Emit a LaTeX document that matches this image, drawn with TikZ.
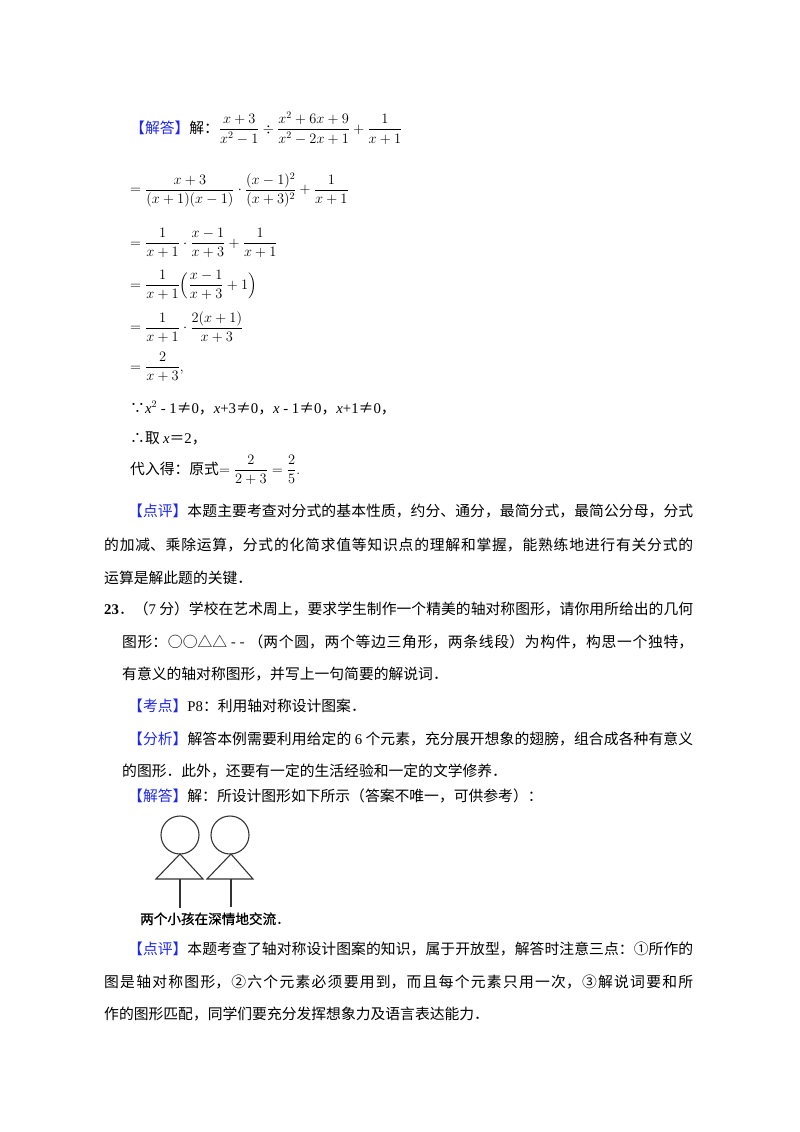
\documentclass[tikz,border=0pt]{standalone}
\usepackage{fontspec}
\usepackage{amsmath}
\newfontfamily\cjk{Noto Sans CJK SC}
\newfontfamily\cjkb[FakeBold=1.0]{Noto Sans CJK SC}
\newfontfamily\ser{Liberation Serif}
\definecolor{tagblue}{RGB}{30,40,230}
\newcommand{\tg}[1]{\textcolor{tagblue}{#1}}
\XeTeXlinebreaklocale "zh"
\XeTeXlinebreakskip=0pt plus 3pt
\newcommand{\jline}[2]{\parbox[t]{#1pt}{\tolerance=10000\hbadness=10000\parfillskip=0pt\relax #2}}
\begin{document}
\begin{tikzpicture}[x=1pt,y=-1pt,
  txt/.style={anchor=base west,inner sep=0pt,font=\cjk\fontsize{14.8}{16}\selectfont},
  mth/.style={anchor=west,inner sep=0pt,font=\fontsize{14}{16}\selectfont},
  fig/.style={line width=1.1pt,draw=black!80}]
\useasboundingbox (0,0) rectangle (800,1132);
% math part
\node[mth] (m1) at (130,128) {{\cjk\fontsize{14.8}{16}\selectfont\tg{【解答】}解：}$\displaystyle\frac{x+3}{x^2-1}\div\frac{x^2+6x+9}{x^2-2x+1}+\frac{1}{x+1}$};
\node[mth] (m2) at (130,190) {$\displaystyle=\frac{x+3}{(x+1)(x-1)}\cdot\frac{(x-1)^2}{(x+3)^2}+\frac{1}{x+1}$};
\node[mth] (m3) at (130,243) {$\displaystyle=\frac{1}{x+1}\cdot\frac{x-1}{x+3}+\frac{1}{x+1}$};
\node[mth] (m4) at (130,285) {$\displaystyle=\frac{1}{x+1}\Bigl(\frac{x-1}{x+3}+1\Bigr)$};
\node[mth] (m5) at (130,327) {$\displaystyle=\frac{1}{x+1}\cdot\frac{2(x+1)}{x+3}$};
\node[mth] (m6) at (130,367) {$\displaystyle=\frac{2}{x+3}$,};
\node[txt] (m7) at (130,413) {∵{\ser\itshape x}{\ser$^2$ - 1}≠{\ser 0}，{\ser\itshape x}{\ser +3}≠{\ser 0}，{\ser\itshape x}{\ser\ - 1}≠{\ser 0}，{\ser\itshape x}{\ser +1}≠{\ser 0}，};
\node[txt] (m8) at (130,443) {∴取 {\ser\itshape x}＝{\ser 2}，};
\node[mth] (m9) at (130,470) {{\cjk\fontsize{14.8}{16}\selectfont 代入得：原式}$\displaystyle=\frac{2}{2+3}=\frac{2}{5}$.};
% comments
\node[txt] (p1) at (128,516) {\jline{565}{\tg{【点评】}本题主要考查对分式的基本性质，约分、通分，最简分式，最简公分母，分式}};
\node[txt] (p2) at (104,550) {\jline{589}{的加减、乘除运算，分式的化简求值等知识点的理解和掌握，能熟练地进行有关分式的}};
\node[txt] (p3) at (104,583) {运算是解此题的关键．};
\node[txt] (q1) at (104,614) {\jline{589}{{\ser\bfseries 23}．（{\ser 7} 分）学校在艺术周上，要求学生制作一个精美的轴对称图形，请你用所给出的几何}};
\node[txt] (q2) at (122,647) {\jline{571}{图形：○○△△ - - （两个圆，两个等边三角形，两条线段）为构件，构思一个独特，}};
\node[txt] (q3) at (122,679) {有意义的轴对称图形，并写上一句简要的解说词．};
\node[txt] (k1) at (128,711) {\tg{【考点】}{\ser P8}：利用轴对称设计图案．};
\node[txt] (f1) at (128,744) {\jline{565}{\tg{【分析】}解答本例需要利用给定的 {\ser 6} 个元素，充分展开想象的翅膀，组合成各种有意义}};
\node[txt] (f2) at (122,776) {的图形．此外，还要有一定的生活经验和一定的文学修养．};
\node[txt] (j1) at (128,801) {\tg{【解答】}解：所设计图形如下所示（答案不唯一，可供参考）：};
% figure
\node[fig,circle,minimum size=38pt,inner sep=0pt] (c1) at (180,835) {};
\node[fig,circle,minimum size=38pt,inner sep=0pt] (c2) at (230,835) {};
\coordinate (a1) at (180,854); \coordinate (b1l) at (156,879); \coordinate (b1r) at (203,879);
\coordinate (a2) at (231,854); \coordinate (b2l) at (207,879); \coordinate (b2r) at (253,879);
\draw[fig,line join=miter] (a1) -- (b1l) -- (b1r) -- cycle;
\draw[fig,line join=miter] (a2) -- (b2l) -- (b2r) -- cycle;
\coordinate (t1) at (180,879); \coordinate (e1) at (180,908);
\coordinate (t2) at (231,879); \coordinate (e2) at (231,907);
\draw[fig] (t1) -- (e1);
\draw[fig] (t2) -- (e2);
\node[anchor=base west,inner sep=0pt,font=\cjkb\fontsize{13.6}{15}\selectfont] (cap) at (140,924) {两个小孩在深情地交流．};
% final comment
\node[txt] (d1) at (128,954) {\jline{565}{\tg{【点评】}本题考查了轴对称设计图案的知识，属于开放型，解答时注意三点：①所作的}};
\node[txt] (d2) at (104,987) {\jline{589}{图是轴对称图形，②六个元素必须要用到，而且每个元素只用一次，③解说词要和所}};
\node[txt] (d3) at (104,1019) {作的图形匹配，同学们要充分发挥想象力及语言表达能力．};
\end{tikzpicture}
\end{document}
